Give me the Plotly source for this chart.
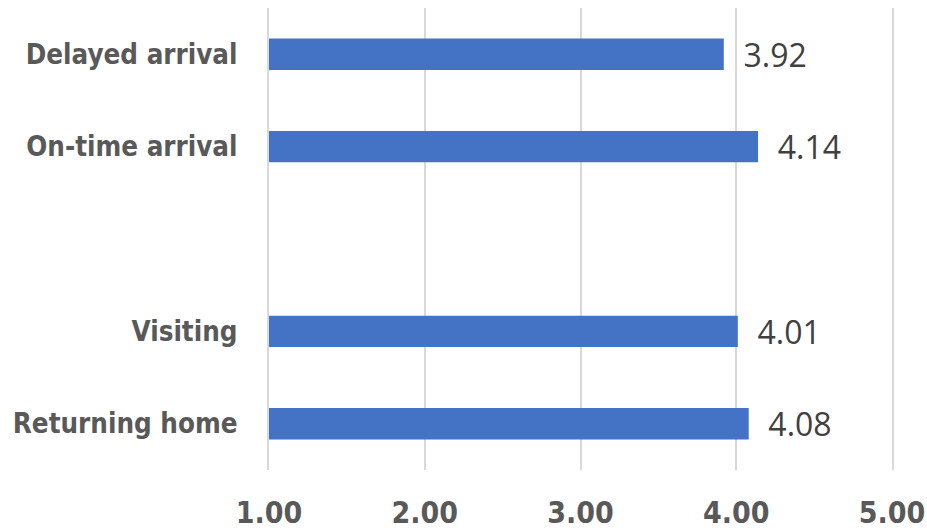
import plotly.graph_objects as go

categories = ["Delayed arrival", "On-time arrival", " ", "Visiting", "Returning home"]
values = [3.92, 4.14, None, 4.01, 4.08]
tick_vals = [1, 2, 3, 4, 5]
tick_text = ["1.00", "2.00", "3.00", "4.00", "5.00"]

labels = [f"  {v:.2f}" if v is not None else "" for v in values]

COND = "DejaVu Sans Condensed"
GRID = "#d9d9d9"

fig = go.Figure(go.Bar(
    y=categories,
    x=[(v - 1) if v is not None else None for v in values],
    base=1,
    orientation="h",
    marker=dict(color="#4472C4", line=dict(width=0)),
    width=0.34,
    text=labels,
    textposition="outside",
    constraintext="none",
    textfont=dict(family="Open Sans", size=32, color="#404040"),
    cliponaxis=False,
))

fig.update_layout(
    width=927, height=532,
    margin=dict(l=269, r=35, t=8, b=62),
    plot_bgcolor="white", paper_bgcolor="white",
    showlegend=False,
    xaxis=dict(
        range=[1, 5], tickvals=tick_vals, ticktext=tick_text,
        showgrid=True, gridcolor=GRID, gridwidth=2,
        zeroline=False, showline=False, automargin=False,
        tickfont=dict(family=COND, size=30, color="#595959", weight="bold"),
        ticklabelstandoff=22,
    ),
    yaxis=dict(
        categoryorder="array", categoryarray=categories,
        range=[4.5, -0.5],
        showgrid=False, zeroline=False,
        showline=True, mirror=True, linecolor=GRID, linewidth=2,
        automargin=False,
        tickfont=dict(family=COND, size=27.5, color="#595959", weight="bold"),
        ticklabelstandoff=24,
    ),
)

fig.write_html("out.html")
